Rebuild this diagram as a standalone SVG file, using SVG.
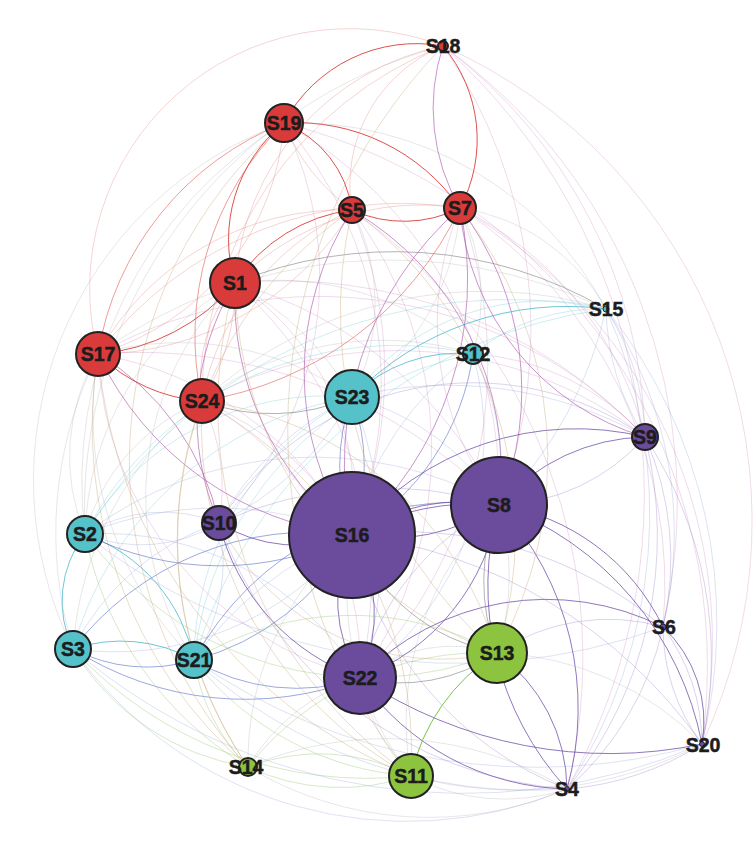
<svg xmlns="http://www.w3.org/2000/svg" width="756" height="858" viewBox="0 0 756 858">
<style>
.e path{fill:none;stroke-width:1}
.R{stroke:#d8322e;stroke-width:1.6;opacity:.85}
.R2{stroke:#e04a44;stroke-width:1.1;opacity:.55}
.r{stroke:#e07070;opacity:.3}
.P{stroke:#6b4aa5;stroke-width:1.3;opacity:.75}
.p{stroke:#8a6cc0;opacity:.3}
.M{stroke:#a84ca8;stroke-width:1.1;opacity:.6}
.m{stroke:#c070b0;opacity:.25}
.C{stroke:#3cb4c8;stroke-width:1.2;opacity:.75}
.c{stroke:#60c4d0;opacity:.3}
.B{stroke:#4a62c4;stroke-width:1.1;opacity:.55}
.b{stroke:#7a8ad0;opacity:.25}
.G{stroke:#72c03a;stroke-width:1.8;opacity:.95}
.g{stroke:#98c878;opacity:.4}
.K{stroke:#808080;stroke-width:1.1;opacity:.6}
.k{stroke:#a0a0a0;opacity:.25}
.t{stroke:#c8aa7a;opacity:.4}
.n circle{stroke:#222;stroke-width:2}
.red{fill:#d93b3b}.cy{fill:#55c1c9}.pu{fill:#6a4b9c}.gr{fill:#8cc43f}
text{font-family:"Liberation Sans",Arial,sans-serif;font-weight:bold;font-size:19.5px;fill:#1c1c1c;stroke:#1c1c1c;stroke-width:.5;text-anchor:middle;dominant-baseline:central}
</style>
<rect width="756" height="858" fill="#ffffff"/>
<g id="edges" class="e">
<path class="m" d="M443,46 A520,520 0 0 1 702,744"/>
<path class="m" d="M443,46 A600,600 0 0 1 567,789"/>
<path class="m" d="M284,123 A560,560 0 0 1 702,744"/>
<path class="m" d="M460,208 A500,500 0 0 1 702,744"/>
<path class="m" d="M443,46 A560,560 0 0 1 663,627"/>
<path class="m" d="M460,208 A450,450 0 0 1 663,627"/>
<path class="m" d="M352,210 A550,550 0 0 1 567,789"/>
<path class="m" d="M443,46 A500,500 0 0 1 645,437"/>
<path class="m" d="M443,46 A500,500 0 0 1 499,505"/>
<path class="k" d="M73,649 A380,380 0 0 1 284,123"/>
<path class="k" d="M85,534 A420,420 0 0 1 284,123"/>
<path class="k" d="M85,534 A480,480 0 0 1 443,46"/>
<path class="t" d="M248,767 A450,450 0 0 1 98,354"/>
<path class="t" d="M248,767 A450,450 0 0 1 284,123"/>
<path class="b" d="M567,789 A410,410 0 0 1 73,649"/>
<path class="b" d="M702,744 A600,600 0 0 1 73,649"/>
<path class="b" d="M702,744 A600,600 0 0 1 194,660"/>
<path class="b" d="M567,789 A500,500 0 0 1 194,660"/>
<path class="b" d="M663,627 A600,600 0 0 1 85,534"/>
<path class="R" d="M284,123 A150,150 0 0 1 443,46"/>
<path class="R" d="M284,123 A200,200 0 0 1 460,208"/>
<path class="R" d="M284,123 A110,110 0 0 1 352,210"/>
<path class="R" d="M460,208 A125,125 0 0 1 352,210"/>
<path class="R" d="M443,46 A145,145 0 0 1 460,208"/>
<path class="R" d="M235,283 A150,150 0 0 1 284,123"/>
<path class="R" d="M235,283 A165,165 0 0 1 352,210"/>
<path class="R" d="M235,283 A200,200 0 0 1 98,354"/>
<path class="R" d="M202,401 A165,165 0 0 1 98,354"/>
<path class="R2" d="M460,208 A345,345 0 0 1 202,401"/>
<path class="R2" d="M202,401 A300,300 0 0 1 284,123"/>
<path class="R2" d="M98,354 A300,300 0 0 1 284,123"/>
<path class="M" d="M460,208 A200,200 0 0 1 443,46"/>
<path class="r" d="M98,354 A260,260 0 0 1 443,46"/>
<path class="r" d="M235,283 A260,260 0 0 1 443,46"/>
<path class="r" d="M202,401 A380,380 0 0 1 443,46"/>
<path class="r" d="M352,210 A150,150 0 0 1 443,46"/>
<path class="r" d="M98,354 A280,280 0 0 1 352,210"/>
<path class="r" d="M202,401 A260,260 0 0 1 352,210"/>
<path class="r" d="M98,354 A380,380 0 0 1 460,208"/>
<path class="r" d="M235,283 A260,260 0 0 1 460,208"/>
<path class="r" d="M202,401 A150,150 0 0 1 235,283"/>
<path class="r" d="M284,123 A260,260 0 0 1 98,354"/>
<path class="r" d="M352,210 A200,200 0 0 1 284,123"/>
<path class="r" d="M235,283 A220,220 0 0 1 202,401"/>
<path class="r" d="M352,210 A300,300 0 0 1 98,354"/>
<path class="M" d="M352,535 A300,300 0 0 1 235,283"/>
<path class="m" d="M235,283 A260,260 0 0 1 352,535"/>
<path class="M" d="M219,523 A260,260 0 0 1 235,283"/>
<path class="M" d="M352,535 A320,320 0 0 1 98,354"/>
<path class="m" d="M98,354 A360,360 0 0 1 352,535"/>
<path class="M" d="M98,354 A260,260 0 0 1 219,523"/>
<path class="M" d="M352,535 A300,300 0 0 1 352,210"/>
<path class="m" d="M352,210 A420,420 0 0 1 352,535"/>
<path class="M" d="M460,208 A340,340 0 0 1 352,535"/>
<path class="M" d="M352,535 A340,340 0 0 1 460,208"/>
<path class="M" d="M645,437 A260,260 0 0 1 460,208"/>
<path class="M" d="M460,208 A300,300 0 0 1 499,505"/>
<path class="m" d="M499,505 A300,300 0 0 1 460,208"/>
<path class="M" d="M352,210 A300,300 0 0 1 499,505"/>
<path class="m" d="M284,123 A420,420 0 0 1 499,505"/>
<path class="m" d="M284,123 A400,400 0 0 1 352,535"/>
<path class="m" d="M284,123 A350,350 0 0 1 219,523"/>
<path class="m" d="M235,283 A500,500 0 0 1 645,437"/>
<path class="m" d="M202,401 A400,400 0 0 1 645,437"/>
<path class="m" d="M98,354 A450,450 0 0 1 645,437"/>
<path class="m" d="M202,401 A300,300 0 0 1 360,678"/>
<path class="m" d="M360,678 A350,350 0 0 1 98,354"/>
<path class="m" d="M202,401 A200,200 0 0 1 219,523"/>
<path class="m" d="M235,283 A400,400 0 0 1 360,678"/>
<path class="m" d="M352,210 A400,400 0 0 1 360,678"/>
<path class="m" d="M460,208 A450,450 0 0 1 360,678"/>
<path class="m" d="M235,283 A420,420 0 0 1 499,505"/>
<path class="m" d="M98,354 A500,500 0 0 1 499,505"/>
<path class="m" d="M202,401 A300,300 0 0 1 352,535"/>
<path class="m" d="M460,208 A350,350 0 0 1 645,437"/>
<path class="C" d="M352,397 A150,150 0 0 1 473,354"/>
<path class="C" d="M352,397 A300,300 0 0 1 606,309"/>
<path class="c" d="M352,397 A240,240 0 0 1 606,309"/>
<path class="C" d="M73,649 A110,110 0 0 1 85,534"/>
<path class="C" d="M85,534 A170,170 0 0 1 194,660"/>
<path class="C" d="M73,649 A150,150 0 0 1 194,660"/>
<path class="B" d="M194,660 A160,160 0 0 1 73,649"/>
<path class="c" d="M85,534 A500,500 0 0 1 606,309"/>
<path class="c" d="M194,660 A500,500 0 0 1 606,309"/>
<path class="c" d="M85,534 A350,350 0 0 1 473,354"/>
<path class="c" d="M194,660 A350,350 0 0 1 473,354"/>
<path class="c" d="M73,649 A350,350 0 0 1 352,397"/>
<path class="c" d="M85,534 A280,280 0 0 1 352,397"/>
<path class="c" d="M194,660 A300,300 0 0 1 352,397"/>
<path class="c" d="M473,354 A200,200 0 0 1 606,309"/>
<path class="B" d="M352,535 A300,300 0 0 1 85,534"/>
<path class="b" d="M85,534 A350,350 0 0 1 352,535"/>
<path class="B" d="M360,678 A320,320 0 0 1 73,649"/>
<path class="B" d="M73,649 A300,300 0 0 1 352,535"/>
<path class="b" d="M352,535 A300,300 0 0 1 73,649"/>
<path class="B" d="M352,535 A250,250 0 0 1 194,660"/>
<path class="B" d="M194,660 A300,300 0 0 1 499,505"/>
<path class="B" d="M360,678 A200,200 0 0 1 194,660"/>
<path class="b" d="M85,534 A300,300 0 0 1 360,678"/>
<path class="b" d="M85,534 A380,380 0 0 1 499,505"/>
<path class="b" d="M219,523 A150,150 0 0 1 85,534"/>
<path class="b" d="M85,534 A150,150 0 0 1 219,523"/>
<path class="b" d="M73,649 A250,250 0 0 1 219,523"/>
<path class="b" d="M219,523 A180,180 0 0 1 194,660"/>
<path class="B" d="M352,397 A200,200 0 0 1 352,535"/>
<path class="B" d="M352,535 A200,200 0 0 1 352,397"/>
<path class="b" d="M352,397 A250,250 0 0 1 499,505"/>
<path class="B" d="M473,354 A250,250 0 0 1 352,535"/>
<path class="b" d="M352,535 A300,300 0 0 1 473,354"/>
<path class="b" d="M473,354 A250,250 0 0 1 499,505"/>
<path class="b" d="M473,354 A300,300 0 0 1 360,678"/>
<path class="m" d="M473,354 A250,250 0 0 1 645,437"/>
<path class="b" d="M606,309 A250,250 0 0 1 645,437"/>
<path class="b" d="M645,437 A250,250 0 0 1 606,309"/>
<path class="b" d="M606,309 A400,400 0 0 1 499,505"/>
<path class="b" d="M606,309 A400,400 0 0 1 663,627"/>
<path class="b" d="M606,309 A500,500 0 0 1 702,744"/>
<path class="b" d="M606,309 A500,500 0 0 1 567,789"/>
<path class="b" d="M352,397 A300,300 0 0 1 219,523"/>
<path class="b" d="M219,523 A300,300 0 0 1 352,397"/>
<path class="b" d="M352,397 A400,400 0 0 1 360,678"/>
<path class="b" d="M352,397 A400,400 0 0 1 645,437"/>
<path class="b" d="M194,660 A350,350 0 0 1 352,535"/>
<path class="P" d="M352,535 A200,200 0 0 1 499,505"/>
<path class="P" d="M499,505 A200,200 0 0 1 352,535"/>
<path class="P" d="M352,535 A260,260 0 0 1 499,505"/>
<path class="P" d="M352,535 A290,290 0 0 1 645,437"/>
<path class="P" d="M499,505 A200,200 0 0 1 645,437"/>
<path class="p" d="M645,437 A200,200 0 0 1 499,505"/>
<path class="P" d="M352,535 A150,150 0 0 1 219,523"/>
<path class="P" d="M360,678 A260,260 0 0 1 663,627"/>
<path class="P" d="M499,505 A220,220 0 0 1 663,627"/>
<path class="P" d="M499,505 A320,320 0 0 1 702,744"/>
<path class="P" d="M663,627 A130,130 0 0 1 702,744"/>
<path class="p" d="M663,627 A200,200 0 0 1 702,744"/>
<path class="p" d="M702,744 A200,200 0 0 1 663,627"/>
<path class="P" d="M497,653 A170,170 0 0 1 567,789"/>
<path class="P" d="M499,505 A300,300 0 0 1 567,789"/>
<path class="P" d="M567,789 A300,300 0 0 1 499,505"/>
<path class="P" d="M567,789 A260,260 0 0 1 360,678"/>
<path class="p" d="M567,789 A350,350 0 0 1 352,535"/>
<path class="P" d="M360,678 A220,220 0 0 1 219,523"/>
<path class="P" d="M352,535 A150,150 0 0 1 360,678"/>
<path class="P" d="M360,678 A150,150 0 0 1 352,535"/>
<path class="P" d="M499,505 A220,220 0 0 1 360,678"/>
<path class="p" d="M360,678 A260,260 0 0 1 499,505"/>
<path class="P" d="M702,744 A450,450 0 0 1 360,678"/>
<path class="p" d="M352,535 A400,400 0 0 1 663,627"/>
<path class="p" d="M352,535 A500,500 0 0 1 702,744"/>
<path class="p" d="M645,437 A300,300 0 0 1 663,627"/>
<path class="p" d="M645,437 A400,400 0 0 1 702,744"/>
<path class="p" d="M645,437 A400,400 0 0 1 567,789"/>
<path class="p" d="M663,627 A300,300 0 0 1 567,789"/>
<path class="p" d="M702,744 A300,300 0 0 1 567,789"/>
<path class="p" d="M219,523 A400,400 0 0 1 499,505"/>
<path class="p" d="M567,789 A400,400 0 0 1 219,523"/>
<path class="p" d="M219,523 A300,300 0 0 1 645,437"/>
<path class="G" d="M411,776 A195,195 0 0 1 497,653"/>
<path class="g" d="M411,776 A220,220 0 0 1 248,767"/>
<path class="g" d="M248,767 A300,300 0 0 1 497,653"/>
<path class="g" d="M248,767 A200,200 0 0 1 411,776"/>
<path class="g" d="M411,776 A400,400 0 0 1 73,649"/>
<path class="g" d="M194,660 A300,300 0 0 1 497,653"/>
<path class="g" d="M411,776 A300,300 0 0 1 194,660"/>
<path class="g" d="M248,767 A200,200 0 0 1 194,660"/>
<path class="g" d="M248,767 A250,250 0 0 1 73,649"/>
<path class="g" d="M248,767 A350,350 0 0 1 85,534"/>
<path class="g" d="M497,653 A350,350 0 0 1 85,534"/>
<path class="k" d="M567,789 A200,200 0 0 1 411,776"/>
<path class="k" d="M248,767 A350,350 0 0 1 567,789"/>
<path class="k" d="M567,789 A350,350 0 0 1 248,767"/>
<path class="K" d="M235,283 A420,420 0 0 1 606,309"/>
<path class="k" d="M202,401 A420,420 0 0 1 606,309"/>
<path class="K" d="M352,397 A200,200 0 0 1 202,401"/>
<path class="k" d="M98,354 A500,500 0 0 1 606,309"/>
<path class="K" d="M497,653 A200,200 0 0 1 352,535"/>
<path class="K" d="M497,653 A200,200 0 0 1 499,505"/>
<path class="k" d="M499,505 A250,250 0 0 1 497,653"/>
<path class="k" d="M360,678 A150,150 0 0 1 497,653"/>
<path class="K" d="M497,653 A170,170 0 0 1 360,678"/>
<path class="k" d="M235,283 A300,300 0 0 1 352,397"/>
<path class="k" d="M98,354 A300,300 0 0 1 352,397"/>
<path class="k" d="M235,283 A300,300 0 0 1 473,354"/>
<path class="k" d="M202,401 A300,300 0 0 1 473,354"/>
<path class="k" d="M352,210 A200,200 0 0 1 352,397"/>
<path class="k" d="M460,208 A250,250 0 0 1 352,397"/>
<path class="k" d="M460,208 A200,200 0 0 1 473,354"/>
<path class="k" d="M460,208 A200,200 0 0 1 606,309"/>
<path class="k" d="M284,123 A350,350 0 0 1 606,309"/>
<path class="k" d="M85,534 A200,200 0 0 1 98,354"/>
<path class="k" d="M73,649 A400,400 0 0 1 98,354"/>
<path class="k" d="M194,660 A350,350 0 0 1 98,354"/>
<path class="k" d="M73,649 A350,350 0 0 1 202,401"/>
<path class="k" d="M85,534 A200,200 0 0 1 202,401"/>
<path class="k" d="M194,660 A300,300 0 0 1 235,283"/>
<path class="k" d="M85,534 A300,300 0 0 1 235,283"/>
<path class="t" d="M248,767 A400,400 0 0 1 202,401"/>
<path class="t" d="M411,776 A400,400 0 0 1 202,401"/>
<path class="t" d="M202,401 A400,400 0 0 1 411,776"/>
<path class="t" d="M411,776 A500,500 0 0 1 98,354"/>
<path class="t" d="M411,776 A450,450 0 0 1 235,283"/>
<path class="t" d="M497,653 A400,400 0 0 1 235,283"/>
<path class="t" d="M352,210 A400,400 0 0 1 497,653"/>
<path class="t" d="M497,653 A450,450 0 0 1 352,210"/>
<path class="t" d="M460,208 A400,400 0 0 1 497,653"/>
<path class="t" d="M202,401 A350,350 0 0 1 497,653"/>
<path class="t" d="M411,776 A550,550 0 0 1 443,46"/>
<path class="t" d="M248,767 A400,400 0 0 1 352,210"/>
<path class="t" d="M497,653 A250,250 0 0 1 219,523"/>
<path class="k" d="M248,767 A300,300 0 0 1 352,535"/>
<path class="k" d="M248,767 A200,200 0 0 1 360,678"/>
<path class="k" d="M411,776 A200,200 0 0 1 360,678"/>
<path class="k" d="M411,776 A300,300 0 0 1 499,505"/>
<path class="p" d="M497,653 A200,200 0 0 1 663,627"/>
<path class="k" d="M497,653 A300,300 0 0 1 702,744"/>
<path class="k" d="M702,744 A400,400 0 0 1 411,776"/>
<path class="k" d="M411,776 A300,300 0 0 1 352,535"/>
</g>
<g id="nodes" class="n">
<g id="S18"><circle class="red" cx="443" cy="46" r="5"/><text x="443" y="46">S18</text></g>
<g id="S19"><circle class="red" cx="284" cy="123" r="19"/><text x="284" y="123">S19</text></g>
<g id="S5"><circle class="red" cx="352" cy="210" r="13"/><text x="352" y="210">S5</text></g>
<g id="S7"><circle class="red" cx="460" cy="208" r="16"/><text x="460" y="208">S7</text></g>
<g id="S1"><circle class="red" cx="235" cy="283" r="25"/><text x="235" y="283">S1</text></g>
<g id="S17"><circle class="red" cx="98" cy="354" r="22"/><text x="98" y="354">S17</text></g>
<g id="S24"><circle class="red" cx="202" cy="401" r="22"/><text x="202" y="401">S24</text></g>
<g id="S23"><circle class="cy" cx="352" cy="397" r="27"/><text x="352" y="397">S23</text></g>
<g id="S12"><circle class="cy" cx="473" cy="354" r="10"/><text x="473" y="354">S12</text></g>
<g id="S15"><circle class="cy" cx="606" cy="309" r="3" style="stroke-width:1"/><text x="606" y="309">S15</text></g>
<g id="S9"><circle class="pu" cx="645" cy="437" r="13"/><text x="645" y="437">S9</text></g>
<g id="S8"><circle class="pu" cx="499" cy="505" r="48"/><text x="499" y="505">S8</text></g>
<g id="S16"><circle class="pu" cx="352" cy="535" r="63"/><text x="352" y="535">S16</text></g>
<g id="S2"><circle class="cy" cx="85" cy="534" r="18"/><text x="85" y="534">S2</text></g>
<g id="S10"><circle class="pu" cx="219" cy="523" r="17"/><text x="219" y="523">S10</text></g>
<g id="S3"><circle class="cy" cx="73" cy="649" r="18"/><text x="73" y="649">S3</text></g>
<g id="S21"><circle class="cy" cx="194" cy="660" r="18"/><text x="194" y="660">S21</text></g>
<g id="S22"><circle class="pu" cx="360" cy="678" r="36"/><text x="360" y="678">S22</text></g>
<g id="S13"><circle class="gr" cx="497" cy="653" r="30"/><text x="497" y="653">S13</text></g>
<g id="S14"><circle class="gr" cx="248" cy="767" r="9"/><text x="246" y="767">S14</text></g>
<g id="S11"><circle class="gr" cx="411" cy="776" r="22"/><text x="411" y="776">S11</text></g>
<g id="S6"><circle class="pu" cx="663" cy="627" r="3" style="stroke-width:1"/><text x="664" y="627">S6</text></g>
<g id="S20"><circle class="pu" cx="702" cy="744" r="2.5" style="stroke-width:1"/><text x="703" y="745">S20</text></g>
<g id="S4"><circle class="pu" cx="567" cy="789" r="2.5" style="stroke-width:1"/><text x="567" y="789">S4</text></g>
</g>
</svg>
